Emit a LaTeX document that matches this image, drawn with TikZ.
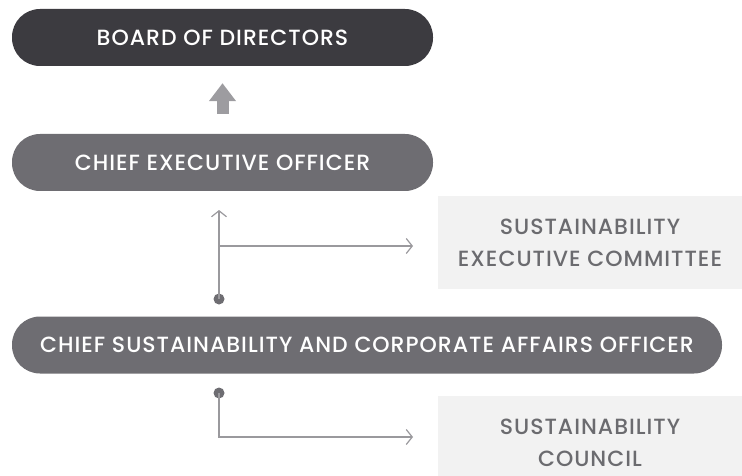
\documentclass[tikz,border=0pt]{standalone}
\usepackage{fontspec}
\setmainfont{Poppins}[UprightFont=* Medium, LetterSpace=4.5]
\usepackage{tikz}
\usetikzlibrary{arrows.meta, positioning}

\definecolor{boarddark}{HTML}{3C3B40}
\definecolor{officergray}{HTML}{6E6D72}
\definecolor{arrowgray}{HTML}{9D9CA0}
\definecolor{linegray}{HTML}{9A999D}
\definecolor{boxgray}{HTML}{F2F2F2}
\definecolor{boxtext}{HTML}{6B6B6F}

\begin{document}
\begin{tikzpicture}[
  x=1pt, y=-1pt,
  pill/.style={rounded corners=28pt, minimum height=57pt, text=white,
    font=\fontsize{22}{24}\selectfont, inner sep=0pt},
  committee/.style={fill=boxgray, text=boxtext, align=center,
    minimum width=304pt, font=\fontsize{22}{32}\selectfont, inner sep=0pt},
  link/.style={draw=linegray, line width=1.2pt, -{Straight Barb[length=6pt, width=15pt]}},
  blockarrow/.style={draw=arrowgray, line width=12pt, -{Triangle[length=18pt, width=26pt]}},
  joint/.style={circle, fill=officergray, inner sep=0pt, minimum size=11pt}
  ]

  \clip (0,0) rectangle (742,476);

  \node[pill, fill=boarddark, minimum width=421pt] (board) at (222.5,37.5) {BOARD OF DIRECTORS};
  \node[pill, fill=officergray, minimum width=421pt] (ceo) at (222.5,162.5) {CHIEF EXECUTIVE OFFICER};
  \node[pill, fill=officergray, minimum width=710pt] (csao) at (367,345)
    {CHIEF SUSTAINABILITY AND CORPORATE AFFAIRS OFFICER};

  \node[committee, minimum height=93pt] (sec) at (590,242.5)
    {SUSTAINABILITY\\EXECUTIVE COMMITTEE};
  \node[committee, minimum height=94pt] (council) at (590,443)
    {SUSTAINABILITY\\COUNCIL};

  % board <- ceo
  \draw[blockarrow] ([yshift=20pt]ceo.north) -- ([yshift=-17pt]board.south);

  % csao -> ceo and executive committee
  \node[joint] (upjoint) at (219,299) {};
  \coordinate (upend) at (219,210);
  \coordinate (upsplit) at (219,246);
  \coordinate (secend) at (413,246);
  \draw[link] (upjoint.center) -- (upend);
  \draw[link] (upsplit) -- (secend);

  % csao -> council
  \node[joint] (downjoint) at (219,393) {};
  \coordinate (downend) at (413,437);
  \draw[link] (downjoint.center) |- (downend);

\end{tikzpicture}
\end{document}
